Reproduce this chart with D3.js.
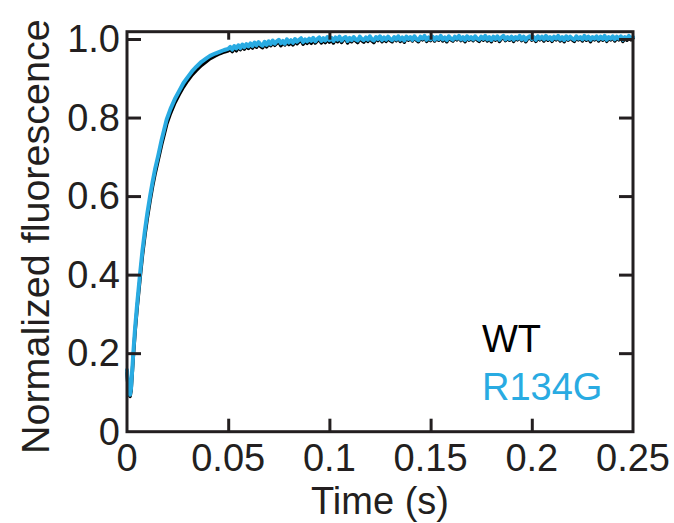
<!DOCTYPE html>
<html>
<head>
<meta charset="utf-8">
<script src="https://cdn.jsdelivr.net/npm/d3@7"></script>
<style>
  html, body { margin: 0; padding: 0; background: #fff; }
  svg { display: block; font-family: "Liberation Sans", Arial, Helvetica, sans-serif; }
</style>
</head>
<body>
<svg id="chart" width="674" height="523"></svg>
<script>
// ---------------- DATA ----------------
const seriesNames = ["WT", "R134G"];
const seriesColors = ["#000000", "#29abe2"];

const xTicks = [0, 0.05, 0.1, 0.15, 0.2, 0.25];
const xTickLabels = ["0", "0.05", "0.1", "0.15", "0.2", "0.25"];
const yTicks = [0, 0.2, 0.4, 0.6, 0.8, 1.0];
const yTickLabels = ["0", "0.2", "0.4", "0.6", "0.8", "1.0"];

// fast rise phase (time in s)
const riseTimes = [0.0000, 0.0005, 0.0010, 0.0015, 0.0020, 0.0025, 0.0031, 0.0040, 0.0050, 0.0064,
                   0.0076, 0.0089, 0.0100, 0.0114, 0.0126, 0.0138, 0.0155, 0.0171, 0.0185, 0.0196,
                   0.0215, 0.0237, 0.0258, 0.0279, 0.0300, 0.0322, 0.0344, 0.0368, 0.0390, 0.0410,
                   0.0435, 0.0460, 0.0480, 0.0500];
const wtRise = [0.150, 0.118, 0.096, 0.090, 0.104, 0.142, 0.190, 0.255, 0.315, 0.388,
                0.448, 0.502, 0.543, 0.588, 0.624, 0.655, 0.694, 0.731, 0.760, 0.783,
                0.811, 0.838, 0.859, 0.878, 0.894, 0.909, 0.921, 0.933, 0.942, 0.950,
                0.957, 0.963, 0.967, 0.970];
const r134gRise = [0.157, 0.125, 0.100, 0.094, 0.110, 0.150, 0.200, 0.265, 0.325, 0.400,
                   0.460, 0.514, 0.555, 0.600, 0.635, 0.667, 0.705, 0.743, 0.772, 0.795,
                   0.822, 0.848, 0.868, 0.888, 0.903, 0.918, 0.930, 0.942, 0.950, 0.957,
                   0.963, 0.968, 0.972, 0.975];

// plateau phase, sampled every 1 ms from 0.051 s to 0.250 s
const plateauTimes = d3.range(51, 251).map(i => i / 1000);
const wtPlateau = [
  0.973, 0.968, 0.977, 0.970, 0.979, 0.973, 0.981, 0.974, 0.983, 0.976,
  0.984, 0.977, 0.986, 0.979, 0.987, 0.981, 0.978, 0.988, 0.980, 0.989,
  0.983, 0.991, 0.984, 0.989, 0.993, 0.983, 0.991, 0.985, 0.994, 0.986,
  0.992, 0.985, 0.995, 0.988, 0.993, 0.997, 0.987, 0.994, 0.989, 0.996,
  0.989, 0.998, 0.990, 0.995, 0.999, 0.990, 0.997, 0.991, 1.000, 0.992,
  0.998, 0.990, 1.000, 0.993, 1.001, 0.991, 0.998, 1.001, 0.990, 0.999,
  0.993, 1.001, 0.995, 0.991, 1.002, 0.996, 0.992, 1.000, 0.994, 1.003,
  0.995, 0.991, 1.001, 0.996, 1.003, 0.993, 1.000, 0.994, 1.002, 0.996,
  0.993, 1.002, 0.996, 1.004, 0.994, 1.001, 0.992, 1.003, 0.997, 1.002,
  0.995, 1.004, 0.997, 0.993, 1.003, 0.998, 1.005, 0.994, 1.001, 0.996,
  1.003, 0.995, 1.002, 0.997, 1.005, 0.995, 1.001, 0.993, 1.004, 0.998,
  0.995, 1.003, 0.998, 1.005, 0.996, 1.002, 0.993, 1.004, 0.997, 1.002,
  0.996, 1.004, 0.998, 0.994, 1.003, 0.997, 1.005, 0.995, 1.002, 0.993,
  1.003, 0.997, 1.004, 0.994, 1.001, 1.005, 0.996, 1.002, 0.997, 1.003,
  0.994, 1.002, 0.998, 1.005, 0.996, 1.003, 0.993, 1.001, 1.004, 0.997,
  1.002, 0.994, 1.004, 0.998, 1.003, 0.995, 1.005, 0.997, 1.002, 0.994,
  1.003, 0.998, 1.005, 0.995, 1.002, 0.993, 1.004, 0.997, 1.003, 0.998,
  0.994, 1.004, 0.998, 1.002, 0.995, 1.005, 0.997, 1.003, 0.993, 1.002,
  0.998, 1.004, 0.995, 1.003, 0.997, 1.005, 0.994, 1.002, 0.998, 1.004,
  0.995, 1.003, 0.998, 1.004, 0.994, 1.002, 0.997, 1.005, 0.998, 1.002
];
const r134gPlateau = [
  0.980, 0.973, 0.982, 0.976, 0.984, 0.977, 0.986, 0.979, 0.987, 0.981,
  0.989, 0.982, 0.991, 0.984, 0.992, 0.986, 0.983, 0.993, 0.985, 0.994,
  0.987, 0.996, 0.988, 0.994, 0.998, 0.989, 0.995, 0.988, 0.999, 0.991,
  0.997, 0.990, 1.000, 0.993, 0.998, 1.002, 0.992, 0.999, 0.994, 1.001,
  0.995, 1.003, 0.994, 1.000, 1.004, 0.995, 1.002, 0.996, 1.005, 0.997,
  1.003, 0.995, 1.004, 0.998, 1.006, 0.996, 1.002, 1.005, 0.995, 1.003,
  0.997, 1.005, 0.999, 0.996, 1.006, 1.000, 0.997, 1.004, 0.998, 1.007,
  0.999, 0.996, 1.005, 1.000, 1.007, 0.997, 1.004, 0.998, 1.006, 1.000,
  0.997, 1.005, 0.999, 1.007, 0.998, 1.004, 0.996, 1.006, 1.000, 1.005,
  0.998, 1.007, 1.000, 0.997, 1.006, 1.001, 1.008, 0.998, 1.004, 0.999,
  1.006, 0.998, 1.005, 1.000, 1.008, 0.999, 1.004, 0.997, 1.007, 1.001,
  0.998, 1.006, 1.001, 1.008, 0.999, 1.005, 0.997, 1.007, 1.000, 1.005,
  0.999, 1.007, 1.001, 0.998, 1.006, 1.000, 1.008, 0.999, 1.005, 0.997,
  1.006, 1.000, 1.007, 0.998, 1.004, 1.008, 0.999, 1.005, 1.000, 1.006,
  0.998, 1.005, 1.001, 1.008, 0.999, 1.006, 0.997, 1.004, 1.007, 1.000,
  1.005, 0.998, 1.007, 1.001, 1.006, 0.999, 1.008, 1.000, 1.005, 0.998,
  1.006, 1.001, 1.008, 0.999, 1.005, 0.997, 1.007, 1.000, 1.006, 1.001,
  0.998, 1.007, 1.001, 1.005, 0.999, 1.008, 1.000, 1.006, 0.998, 1.005,
  1.001, 1.007, 0.999, 1.006, 1.000, 1.008, 0.998, 1.005, 1.001, 1.007,
  0.999, 1.006, 1.001, 1.007, 0.998, 1.005, 1.000, 1.008, 1.001, 1.005
];

// ---------------- CHART ----------------
const W = 674, H = 523;
const plot = { left: 127, right: 633, top: 31.7, bottom: 431.7 };
const axisColor = "#231f20";
const fontSize = 38;

const svg = d3.select("#chart");
const x = d3.scaleLinear().domain([0, 0.25]).range([plot.left, plot.right]);
const y = d3.scaleLinear().domain([0, 1.0186]).range([plot.bottom, plot.top]);

function buildSeries(riseVals, platVals) {
  const pts = riseTimes.map((t, i) => [t, riseVals[i]]);
  plateauTimes.forEach((t, i) => pts.push([t, platVals[i]]));
  return pts;
}
const series = [buildSeries(wtRise, wtPlateau), buildSeries(r134gRise, r134gPlateau)];
const strokeWidths = [3.5, 4];

const line = d3.line().x(d => x(d[0])).y(d => y(d[1]));

svg.append("g").selectAll("path")
  .data(series)
  .join("path")
  .attr("d", line)
  .attr("fill", "none")
  .attr("stroke", (d, i) => seriesColors[i])
  .attr("stroke-width", (d, i) => strokeWidths[i])
  .attr("stroke-linejoin", "round")
  .attr("stroke-linecap", "round");

// axes (custom-styled via d3.axis)
const tickW = 3;
const bottomAxis = d3.axisBottom(x).tickValues(xTicks.slice(1, -1)).tickSize(-13).tickFormat("");
const topAxis = d3.axisTop(x).tickValues(xTicks.slice(1, -1)).tickSize(-8).tickFormat("");
const leftAxis = d3.axisLeft(y).tickValues(yTicks.slice(1)).tickSize(-14).tickFormat("");
const rightAxis = d3.axisRight(y).tickValues(yTicks.slice(1)).tickSize(-14).tickFormat("");

function styleAxis(g) {
  g.select(".domain").remove();
  g.selectAll(".tick line").attr("stroke", axisColor).attr("stroke-width", tickW);
}
svg.append("g").attr("transform", `translate(0,${plot.bottom})`).call(bottomAxis).call(styleAxis);
svg.append("g").attr("transform", `translate(0,${plot.top})`).call(topAxis).call(styleAxis);
svg.append("g").attr("transform", `translate(${plot.left},0)`).call(leftAxis).call(styleAxis);
svg.append("g").attr("transform", `translate(${plot.right},0)`).call(rightAxis).call(styleAxis);

// frame
svg.append("rect")
  .attr("x", plot.left).attr("y", plot.top)
  .attr("width", plot.right - plot.left).attr("height", plot.bottom - plot.top)
  .attr("fill", "none").attr("stroke", axisColor).attr("stroke-width", 3);

// tick labels
svg.append("g").selectAll("text")
  .data(xTicks)
  .join("text")
  .attr("x", d => x(d))
  .attr("y", 471)
  .attr("text-anchor", "middle")
  .attr("font-size", fontSize)
  .attr("fill", axisColor)
  .text((d, i) => xTickLabels[i]);

svg.append("g").selectAll("text")
  .data(yTicks)
  .join("text")
  .attr("x", 120)
  .attr("y", d => y(d))
  .attr("dy", "0.35em")
  .attr("text-anchor", "end")
  .attr("font-size", fontSize)
  .attr("fill", axisColor)
  .text((d, i) => yTickLabels[i]);

// axis titles
svg.append("text")
  .attr("x", (plot.left + plot.right) / 2)
  .attr("y", 514)
  .attr("text-anchor", "middle")
  .attr("font-size", fontSize)
  .attr("fill", axisColor)
  .text("Time (s)");

svg.append("text")
  .attr("transform", `translate(49,${(plot.top + plot.bottom) / 2 + 5}) rotate(-90)`)
  .attr("text-anchor", "middle")
  .attr("font-size", 39.5)
  .attr("fill", axisColor)
  .text("Normalized fluorescence");

// legend
svg.append("g").selectAll("text")
  .data(seriesNames)
  .join("text")
  .attr("x", 482)
  .attr("y", (d, i) => 352 + i * 48)
  .attr("font-size", fontSize)
  .attr("fill", (d, i) => seriesColors[i])
  .text(d => d);
</script>
</body>
</html>
